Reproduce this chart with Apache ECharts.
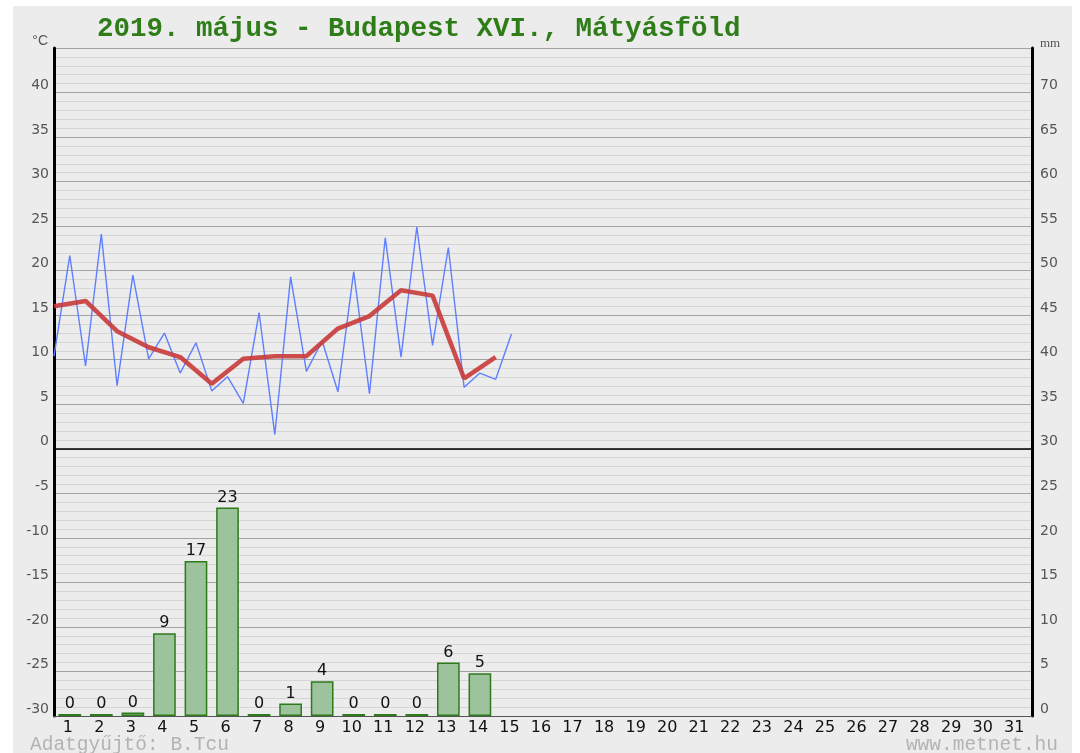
<!DOCTYPE html>
<html>
<head>
<meta charset="utf-8">
<script src="https://cdn.jsdelivr.net/npm/echarts@6/dist/echarts.min.js"></script>
<style>
html, body { margin: 0; padding: 0; background: #fff; }
#bg { position: absolute; left: 13px; top: 6px; width: 1059px; height: 747px; background: #ececec; }
#chart { position: absolute; left: 0; top: 0; width: 1080px; height: 753px; }
</style>
</head>
<body>
<div id="bg"></div>
<div id="chart"></div>
<script>
// napok (x tengely)
var days = ['1','2','3','4','5','6','7','8','9','10','11','12','13','14','15','16',
            '17','18','19','20','21','22','23','24','25','26','27','28','29','30','31'];
// félnapos hőmérséklet (min / max váltakozva), °C
var halfDayTemp = [10.4, 21.7, 9.3, 24.1, 7.1, 19.5, 10.1, 13.0, 8.5, 11.9,
                   6.5, 8.1, 5.1, 15.3, 1.6, 19.3, 8.7, 12.1, 6.4, 19.9,
                   6.2, 23.7, 10.3, 24.9, 11.6, 22.6, 6.9, 8.5, 7.8, 12.9];
// napi középhőmérséklet, °C
var dailyMeanTemp = [16.0, 16.6, 13.2, 11.4, 10.3, 7.3, 10.1, 10.4, 10.4, 13.5,
                     14.9, 17.8, 17.2, 7.9, 10.3];
// napi csapadék, mm
var dailyRain = [0, 0, 0.4, 9.3, 17.4, 23.4, 0, 1.4, 3.9, 0, 0, 0, 6.0, 4.8];

var chart = echarts.init(document.getElementById('chart'));
var option = {
    animation: false,
    title: {
        text: '2019. május - Budapest XVI., Mátyásföld',
        left: 92,
        top: 10,
        textStyle: {
            fontFamily: 'Liberation Mono',
            fontWeight: 'bold',
            fontSize: 27.5,
            color: '#2e7d18'
        }
    },
    grid: { left: 54, right: 48, top: 48, bottom: 37 },
    xAxis: [
        {
            type: 'category',
            data: days,
            position: 'bottom',
            axisLine: { onZero: false, lineStyle: { color: '#555', width: 1 } },
            axisTick: { show: false },
            axisLabel: { color: '#111', fontSize: 16, margin: 4, fontFamily: 'DejaVu Sans', padding: [0, 4, 0, 0] },
            splitLine: { show: false }
        },
        {
            type: 'value',
            min: 0,
            max: 31,
            position: 'bottom',
            axisLine: { show: true, onZero: true, onZeroAxisIndex: 0, lineStyle: { color: '#000', width: 1.5 } },
            axisTick: { show: false },
            axisLabel: { show: false },
            splitLine: { show: false }
        }
    ],
    yAxis: [
        {
            type: 'value',
            min: -30,
            max: 45,
            interval: 5,
            position: 'left',
            name: '°C',
            nameGap: 2,
            nameTextStyle: { color: '#555', fontSize: 14, align: 'right', padding: [0, 6, -2, 0] },
            axisLine: { show: true, lineStyle: { color: '#000', width: 3 } },
            axisTick: { show: false },
            axisLabel: { color: '#555', fontSize: 14, margin: 5, showMaxLabel: false, verticalAlign: 'bottom', fontFamily: 'DejaVu Sans' },
            splitLine: { show: true, lineStyle: { color: '#a3a3a3', width: 1 } },
            minorTick: { show: false, splitNumber: 5 },
            minorSplitLine: { show: true, lineStyle: { color: '#d5d5d5', width: 1 } }
        },
        {
            type: 'value',
            min: 0,
            max: 75,
            interval: 5,
            position: 'right',
            name: 'mm',
            nameGap: 2,
            nameTextStyle: { color: '#555', fontSize: 13, align: 'left', padding: [0, 0, -4, 8], fontFamily: 'Liberation Serif' },
            axisLine: { show: true, lineStyle: { color: '#000', width: 3 } },
            axisTick: { show: false },
            axisLabel: { color: '#555', fontSize: 14, margin: 8, showMaxLabel: false, verticalAlign: 'bottom', fontFamily: 'DejaVu Sans' },
            splitLine: { show: false }
        }
    ],
    graphic: [
        {
            type: 'text',
            left: 30,
            top: 735,
            style: { text: 'Adatgyűjtő: B.Tcu', fontFamily: 'Liberation Mono', fontSize: 19.5, fill: '#b3b3b3' }
        },
        {
            type: 'text',
            right: 22,
            top: 735,
            style: { text: 'www.metnet.hu', fontFamily: 'Liberation Mono', fontSize: 19.5, fill: '#b3b3b3' }
        }
    ],
    series: [
        {
            type: 'bar',
            xAxisIndex: 0,
            yAxisIndex: 1,
            data: dailyRain,
            barWidth: '72%',
            barMinHeight: 2,
            itemStyle: { color: '#9cc39c', borderColor: '#2d7a1b', borderWidth: 1.5 },
            label: {
                show: true,
                position: 'top',
                distance: 2,
                color: '#111',
                fontSize: 16,
                fontFamily: 'DejaVu Sans',
                formatter: function (p) { return Math.round(p.value); }
            }
        },
        {
            type: 'line',
            xAxisIndex: 1,
            yAxisIndex: 0,
            data: halfDayTemp.map(function (v, i) { return [i / 2, v]; }),
            showSymbol: false,
            lineStyle: { color: '#5f7fff', width: 1.4 },
            z: 3
        },
        {
            type: 'line',
            xAxisIndex: 1,
            yAxisIndex: 0,
            data: dailyMeanTemp.map(function (v, i) { return [i, v]; }),
            showSymbol: false,
            lineStyle: { color: '#c93a3a', width: 4.5, opacity: 0.9 },
            z: 4
        }
    ]
};
chart.setOption(option);
</script>
</body>
</html>
